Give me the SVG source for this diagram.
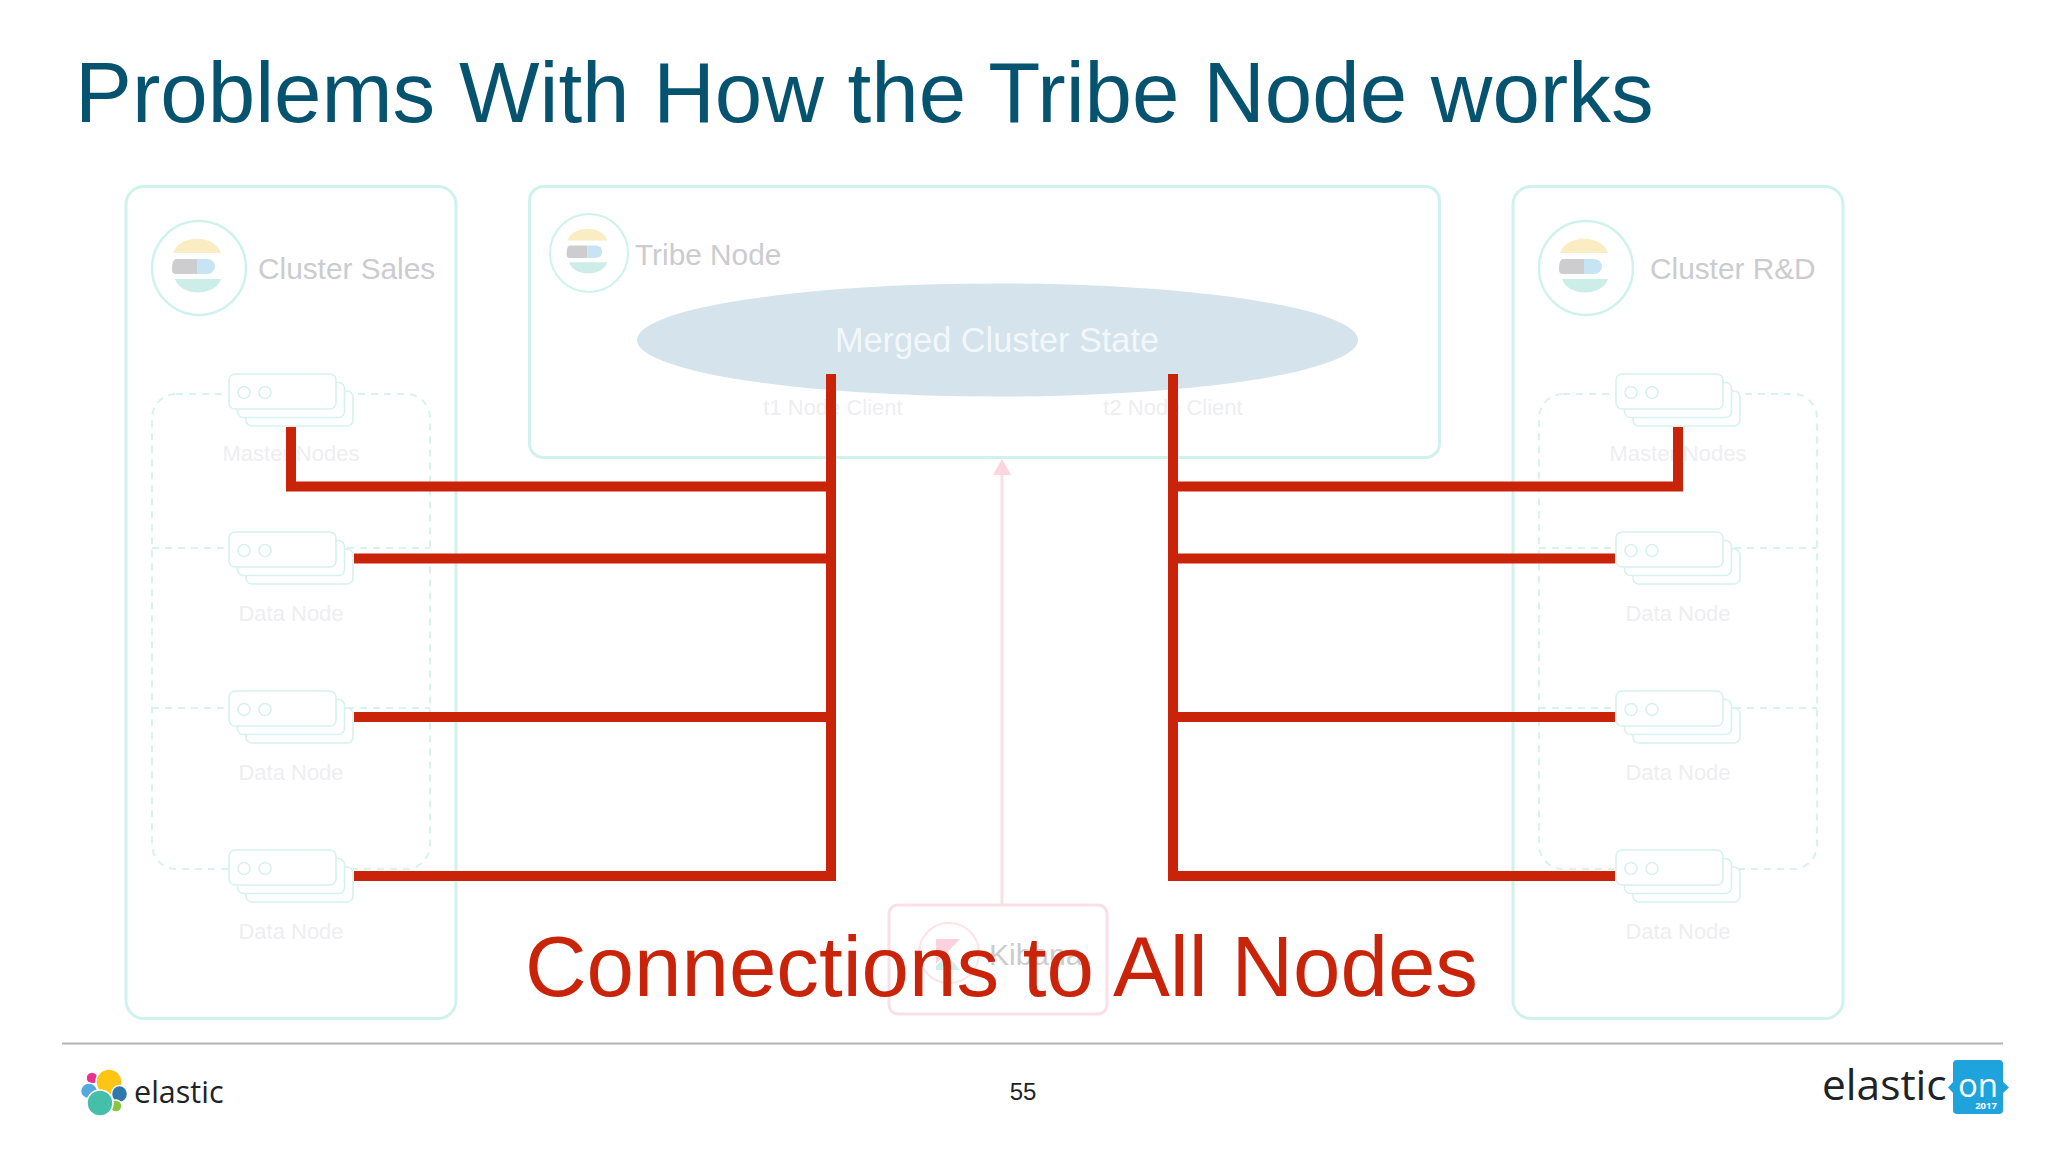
<svg xmlns="http://www.w3.org/2000/svg" xmlns:xlink="http://www.w3.org/1999/xlink" width="2048" height="1152" viewBox="0 0 2048 1152">
<defs>
<style>
text{font-family:"Liberation Sans",Arial,sans-serif}
.box{fill:none;stroke:#cff3ec;stroke-width:3}
.dash{fill:none;stroke:#d8f3ee;stroke-width:2;stroke-dasharray:7 6}
.srv{fill:#fff;stroke:#d6f2ed;stroke-width:1.6}
.name{font-size:29.8px;fill:#cbcbd0}
.small{font-size:22px;fill:#eeeef1;text-anchor:middle}
.red{fill:none;stroke:#c9240a;stroke-width:10;stroke-linejoin:miter}
.brand{font-family:"Open Sans","Noto Sans",sans-serif;fill:#1f2226}
</style>
<symbol id="stack" overflow="visible" viewBox="0 0 130 60" width="130" height="60">
<rect class="srv" x="17" y="17" width="107" height="35" rx="6"/>
<rect class="srv" x="8.500" y="8.500" width="107" height="35" rx="6"/>
<rect class="srv" x="0" y="0" width="107" height="35" rx="6"/>
<circle class="srv" cx="15" cy="18.500" r="6"/>
<circle class="srv" cx="36" cy="18.500" r="6"/>
</symbol>
<symbol id="badge" overflow="visible" viewBox="-48 -48 96 96" width="96" height="96">
<circle cx="0" cy="0" r="47" fill="#fff" stroke="#cff3ec" stroke-width="2.500"/>
<path d="M-26 -15 C-20 -34 16 -34 22 -15 Z" fill="#faedc4"/>
<path d="M-23 -9 H-2 V6 H-23 Q-27 6 -27 1.500 Q-27 -9 -23 -9 Z" fill="#cdcdd0"/>
<path d="M-2 -9 H8 A8 7.500 0 0 1 8 6 H-2 Z" fill="#c7e4f5"/>
<path d="M-24 11 H22 C16 29 -18 29 -24 11 Z" fill="#cdeee8"/>
</symbol>
</defs>
<rect x="0" y="0" width="2048" height="1152" fill="#ffffff"/>
<text id="title" x="75" y="122" font-size="85.300" fill="#05536f">Problems With How the Tribe Node works</text>

<g id="cluster-sales">
<rect class="box" x="126" y="186.500" width="330" height="832" rx="18"/>
<use xlink:href="#badge" href="#badge" x="151" y="220"/>
<text class="name" x="258" y="279">Cluster Sales</text>
<rect class="dash" x="152" y="394" width="278" height="475" rx="24"/>
<path class="dash" d="M152 548H430M152 708H430"/>
</g>
<g id="sales-master"><use xlink:href="#stack" href="#stack" x="229" y="374"/><text class="small" x="291" y="461">Master Nodes</text></g>
<g id="sales-data-1"><use xlink:href="#stack" href="#stack" x="229" y="532"/><text class="small" x="291" y="621">Data Node</text></g>
<g id="sales-data-2"><use xlink:href="#stack" href="#stack" x="229" y="691"/><text class="small" x="291" y="780">Data Node</text></g>
<g id="sales-data-3"><use xlink:href="#stack" href="#stack" x="229" y="850"/><text class="small" x="291" y="939">Data Node</text></g>

<g id="tribe-node">
<rect class="box" x="529.500" y="186.500" width="910" height="271" rx="14"/>
<use xlink:href="#badge" href="#badge" x="0" y="0" transform="translate(589 253) scale(.83) translate(-48 -48)"/>
<text class="name" x="635" y="265">Tribe Node</text>
<ellipse cx="997.500" cy="340" rx="360.500" ry="56.500" fill="#d5e3ed"/>
<text x="997" y="352" font-size="34.300" fill="#f2f7fa" text-anchor="middle">Merged Cluster State</text>
<text class="small" x="833" y="415">t1 Node Client</text>
<text class="small" x="1173" y="415">t2 Node Client</text>
</g>

<g id="kibana">
<rect x="889" y="905" width="218" height="109" rx="9" fill="#fff" stroke="#fbdfe6" stroke-width="3"/>
<circle cx="949" cy="953" r="30" fill="#fff" stroke="#fbe3e9" stroke-width="2"/>
<path d="M936 939H960L936 964Z" fill="#fbd2dd"/>
<path d="M936 966L947 955L960 970H936Z" fill="#d0efe9"/>
<text x="989" y="965" font-size="30" fill="#cbcbd0">Kibana</text>
</g>

<g id="cluster-rd">
<rect class="box" x="1513" y="186.500" width="330" height="832" rx="18"/>
<use xlink:href="#badge" href="#badge" x="1538" y="220"/>
<text class="name" x="1650" y="279">Cluster R&amp;D</text>
<rect class="dash" x="1539" y="394" width="278" height="475" rx="24"/>
<path class="dash" d="M1539 548H1817M1539 708H1817"/>
</g>
<g id="rd-master"><use xlink:href="#stack" href="#stack" x="1616" y="374"/><text class="small" x="1678" y="461">Master Nodes</text></g>
<g id="rd-data-1"><use xlink:href="#stack" href="#stack" x="1616" y="532"/><text class="small" x="1678" y="621">Data Node</text></g>
<g id="rd-data-2"><use xlink:href="#stack" href="#stack" x="1616" y="691"/><text class="small" x="1678" y="780">Data Node</text></g>
<g id="rd-data-3"><use xlink:href="#stack" href="#stack" x="1616" y="850"/><text class="small" x="1678" y="939">Data Node</text></g>

<g id="connectors">
<path d="M1002 905V472" fill="none" stroke="#fbdfe6" stroke-width="3"/>
<path d="M1002 459L1011 475H993Z" fill="#fbd5df"/>
<path class="red" d="M291 427V486.500H831M354 558.500H831M354 717H831M354 876H831M831 374V881"/>
<path class="red" d="M1678 427V486.500H1173M1615 558.500H1173M1615 717H1173M1615 876H1173M1173 374V881"/>
</g>

<text id="caption" x="1001.500" y="996" font-size="85.300" fill="#c9240a" text-anchor="middle">Connections to All Nodes</text>

<g id="footer">
<line x1="62" y1="1043.500" x2="2003" y2="1043.500" stroke="#b4b4b4" stroke-width="2"/>
<text x="1023" y="1100" font-size="24" fill="#222" text-anchor="middle">55</text>
<g stroke="#fff" stroke-width="1.500">
<circle cx="92" cy="1078" r="6" fill="#e8308c"/>
<circle cx="109" cy="1082" r="13" fill="#fec514"/>
<ellipse cx="89" cy="1091" rx="8.500" ry="8" fill="#53a9e0"/>
<ellipse cx="119.500" cy="1094" rx="8" ry="8.500" fill="#2f78ad"/>
<circle cx="116" cy="1106" r="6" fill="#88c540"/>
<circle cx="100" cy="1103" r="13" fill="#45bfa9"/>
</g>
<text class="brand" x="134" y="1103" font-size="30.500">elastic</text>
<text class="brand" x="1822" y="1100" font-size="42.500">elastic</text>
<rect x="1953" y="1060" width="50" height="54" rx="4" fill="#1ea3dd"/>
<path d="M1954 1081L1948 1087.500L1954 1094ZM2002 1081L2009 1087.500L2002 1094Z" fill="#1ea3dd"/>
<text x="1978" y="1097" font-size="33" fill="#fff" text-anchor="middle" style="font-family:'Open Sans',sans-serif">on</text>
<text x="1986" y="1109" font-size="9.500" font-weight="700" fill="#fff" text-anchor="middle" style="font-family:'Open Sans',sans-serif">2017</text>
</g>
</svg>
